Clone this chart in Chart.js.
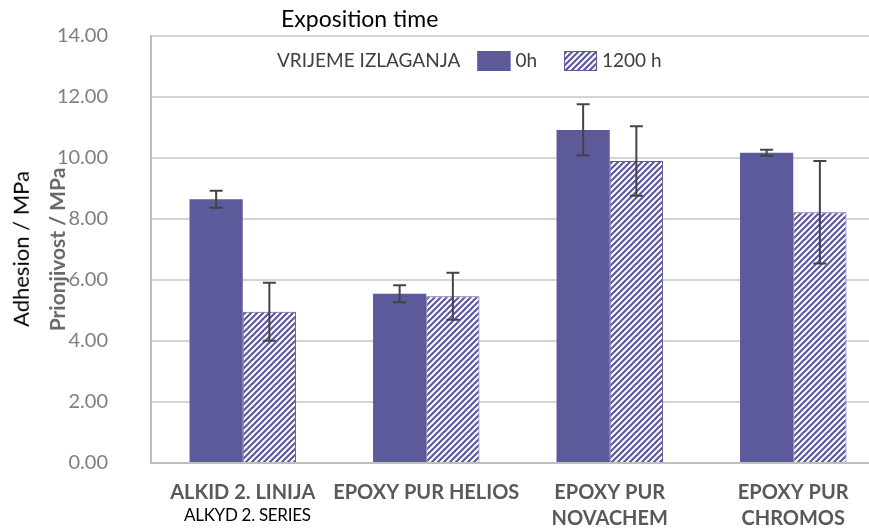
<!DOCTYPE html>
<html>
<head>
<meta charset="utf-8">
<script src="https://cdn.jsdelivr.net/npm/chart.js@4.4.1/dist/chart.umd.min.js"></script>
<style>
    html, body { margin: 0; padding: 0; background: #fff; overflow: hidden; }
    #wrap { position: relative; width: 869px; height: 529px; overflow: hidden; }
    #adhesion { position: absolute; left: 0; top: 0; }
    .note { position: absolute; font-family: Lato, "Open Sans", sans-serif; color: #000; white-space: nowrap; line-height: 1.2; }
</style>
</head>
<body>
<div id="wrap">
    <canvas id="adhesion" width="885" height="529"></canvas>
    <div class="note" id="expTitle" style="left:281px; top:5px; font-size:23px;">Exposition time</div>
    <div class="note" id="alkydNote" style="left:184px; top:505px; font-size:17px; letter-spacing:-0.3px;">ALKYD 2. SERIES</div>
    <div class="note" id="adhNote" style="left:21px; top:249px; font-size:22px; transform: translate(-50%, -50%) rotate(-90deg);">Adhesion / MPa</div>
</div>
<script>
const categories = [["ALKID 2. LINIJA"], ["EPOXY PUR HELIOS"], ["EPOXY PUR", "NOVACHEM"], ["EPOXY PUR", "CHROMOS"]];
const seriesNames = ["0h", "1200 h"];
const values0h = [8.65, 5.55, 10.92, 10.17];
const values1200h = [4.96, 5.47, 9.90, 8.22];
const errors0h = [0.28, 0.28, 0.84, 0.10];
const errors1200h = [0.95, 0.77, 1.14, 1.68];
const legendTitle = "VRIJEME IZLAGANJA";

const barColor = "#5d5a9c";
const fontFamily = "Lato, 'Open Sans', sans-serif";

function makeHatch() {
    const size = 6;
    const c = document.createElement("canvas");
    c.width = size;
    c.height = size;
    const g = c.getContext("2d");
    g.fillStyle = "#ffffff";
    g.fillRect(0, 0, size, size);
    g.strokeStyle = barColor;
    g.lineWidth = 2.2;
    g.beginPath();
    g.moveTo(-1, size + 1); g.lineTo(size + 1, -1);
    g.moveTo(-1, 1); g.lineTo(1, -1);
    g.moveTo(size - 1, size + 1); g.lineTo(size + 1, size - 1);
    g.stroke();
    return g.createPattern(c, "repeat");
}

document.addEventListener("DOMContentLoaded", () => {
    const hatch = makeHatch();

    const errorBars = {
        id: "errorBars",
        afterDatasetsDraw(chart) {
            const ctx = chart.ctx;
            const yScale = chart.scales.y;
            ctx.save();
            ctx.strokeStyle = "#444444";
            ctx.lineWidth = 2;
            chart.data.datasets.forEach((ds, i) => {
                const meta = chart.getDatasetMeta(i);
                meta.data.forEach((bar, j) => {
                    const v = ds.data[j];
                    const e = ds.errors[j];
                    const yTop = yScale.getPixelForValue(v + e);
                    const yBot = yScale.getPixelForValue(v - e);
                    const half = 6.5;
                    ctx.beginPath();
                    ctx.moveTo(bar.x, yTop); ctx.lineTo(bar.x, yBot);
                    ctx.moveTo(bar.x - half, yTop); ctx.lineTo(bar.x + half, yTop);
                    ctx.moveTo(bar.x - half, yBot); ctx.lineTo(bar.x + half, yBot);
                    ctx.stroke();
                });
            });
            ctx.restore();
        }
    };

    const inlineLegend = {
        id: "inlineLegend",
        afterDraw(chart) {
            const ctx = chart.ctx;
            ctx.save();
            ctx.font = "19px " + fontFamily;
            ctx.textBaseline = "middle";
            ctx.fillStyle = "#404040";
            const y = 61;
            let x = 277;
            ctx.fillText(legendTitle, x, y);
            x += ctx.measureText(legendTitle).width + 17;
            chart.data.datasets.forEach(ds => {
                ctx.fillStyle = ds.backgroundColor;
                ctx.fillRect(x, y - 10, 33, 20);
                ctx.strokeStyle = barColor;
                ctx.lineWidth = 1;
                ctx.strokeRect(x + 0.5, y - 9.5, 32, 19);
                x += 38;
                ctx.fillStyle = "#404040";
                ctx.fillText(ds.label, x, y);
                x += ctx.measureText(ds.label).width + 27;
            });
            ctx.restore();
        }
    };

    const ctx = document.getElementById("adhesion").getContext("2d");
    new Chart(ctx, {
        type: "bar",
        data: {
            labels: categories,
            datasets: [{
                label: seriesNames[0],
                data: values0h,
                errors: errors0h,
                backgroundColor: barColor,
                borderColor: barColor,
                borderWidth: 0
            }, {
                label: seriesNames[1],
                data: values1200h,
                errors: errors1200h,
                backgroundColor: hatch,
                borderColor: barColor,
                borderWidth: 1
            }]
        },
        options: {
            responsive: false,
            animation: false,
            layout: { padding: { top: 36, right: 0, left: 0, bottom: 0 } },
            datasets: { bar: { barPercentage: 1.0, categoryPercentage: 0.58 } },
            plugins: { legend: { display: false }, tooltip: { enabled: false } },
            scales: {
                x: {
                    afterFit(scale) { scale.height = 66; },
                    grid: { display: false, drawTicks: false },
                    border: { display: true, color: "#bfbfbf", width: 2 },
                    ticks: {
                        padding: 17,
                        color: "#595959",
                        font: { family: fontFamily, size: 20, weight: "bold", lineHeight: 1.3 },
                        maxRotation: 0,
                        autoSkip: false
                    }
                },
                y: {
                    min: 0,
                    max: 14,
                    afterFit(scale) { scale.width = 151; },
                    grid: { color: "#d4d4d4", lineWidth: 2, drawTicks: true, tickLength: 43, tickColor: "rgba(0,0,0,0)" },
                    border: { display: true, color: "#bfbfbf", width: 2 },
                    ticks: {
                        stepSize: 2,
                        padding: 0,
                        color: "#7f7f7f",
                        font: { family: fontFamily, size: 20 },
                        callback: v => v.toFixed(2)
                    },
                    title: {
                        display: true,
                        text: "Prionjivost / MPa",
                        color: "#6a6a6a",
                        font: { family: fontFamily, size: 21, weight: "bold" },
                        padding: { top: 46, bottom: 0 }
                    }
                }
            }
        },
        plugins: [errorBars, inlineLegend]
    });
});
</script>
</body>
</html>
